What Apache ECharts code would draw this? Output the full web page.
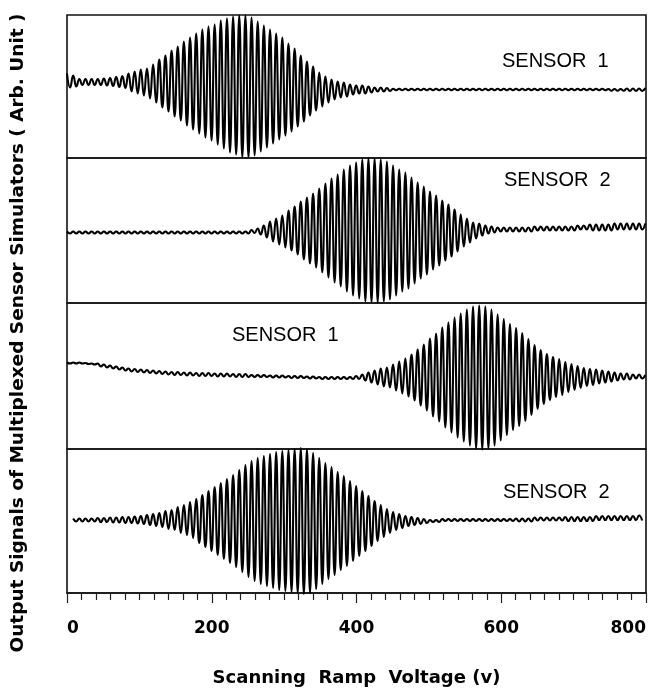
<!DOCTYPE html>
<html>
<head>
<meta charset="utf-8">
<script src="https://cdn.jsdelivr.net/npm/echarts@6.0.0/dist/echarts.min.js"></script>
<style>
html,body{margin:0;padding:0;background:#fff;}
#chart{width:660px;height:691px;}
</style>
</head>
<body>
<div id="chart"></div>
<script>
// ---------- data ----------
const xTickLabels = ['0', '200', '400', '600', '800'];
const panelLabels = ['SENSOR  1', 'SENSOR  2', 'SENSOR  1', 'SENSOR  2'];
const xAxisTitle = 'Scanning  Ramp  Voltage (v)';
const yAxisTitle = 'Output Signals of Multiplexed Sensor Simulators ( Arb. Unit )';

// samples alternate peak / trough, half a carrier cycle (volts) apart
const HALF_CYCLE = 4.25;

// panel 1 (SENSOR 1)
const sensor1aPeaks = [
  13, 11, 7.5, 7.5, 7.5, 7.5, 8, 8.5, 9.5, 10.5,
  13, 15, 17, 18, 22, 27, 31, 36, 40, 45,
  49, 53, 57, 60, 62, 66, 68, 70, 71, 71,
  69, 65, 61, 57, 53, 49, 43, 38, 31, 25,
  20, 14, 10, 7, 5, 4, 2, 1, 1, 0,
  -1, -1, -1.5, -2.2, -2.2, -2.2, -2.2, -2.2, -2.2, -2.2,
  -2.2, -2.2, -2.2, -2.2, -2.2, -2.2, -2.2, -2.2, -2.2, -2.2,
  -2.2, -2.2, -2.2, -2.2, -2.2, -2.2, -2.2, -2.2, -2.2, -2.2,
  -2.2, -2.2, -2.2, -2.2, -2.2, -2.2, -2.2, -2.2, -2.5, -2.5,
  -2.5, -2, -2, -2, -1.5
];
const sensor1aTroughs = [
  -1, 0, 1.5, 1.5, 1.5, 1.5, 1, 0.5, -0.5, -1.5,
  -5, -7, -9, -12, -16, -21, -25, -30, -34, -39,
  -43, -47, -51, -54, -58, -62, -66, -68, -71, -71,
  -69, -65, -61, -57, -53, -49, -45, -40, -35, -29,
  -24, -20, -16, -13, -11, -10, -8, -7, -7, -6,
  -5, -5, -4.5, -3.8, -3.8, -3.8, -3.8, -3.8, -3.8, -3.8,
  -3.8, -3.8, -3.8, -3.8, -3.8, -3.8, -3.8, -3.8, -3.8, -3.8,
  -3.8, -3.8, -3.8, -3.8, -3.8, -3.8, -3.8, -3.8, -3.8, -3.8,
  -3.8, -3.8, -3.8, -3.8, -3.8, -3.8, -3.8, -3.8, -4.2, -4.2,
  -4.2, -4.5, -4.5, -4.5
];

// panel 2 (SENSOR 2)
const sensor2aPeaks = [
  -1, -1, -1, -1, -1, -1, -1, -1, -1, -1,
  -1, -1, -1, -1, -1, -1, -1, -1, -1, -1,
  -1, -1, -1, -1, -1, -1, -1, -1, -1, -1,
  0.5, 2, 5, 9, 12, 15, 20, 24, 29, 33,
  37, 42, 47, 52, 56, 61, 65, 68, 71, 72,
  72, 71, 69, 65, 61, 58, 53, 48, 44, 39,
  35, 30, 26, 21, 16, 12, 8, 7, 5, 4,
  3, 3, 3, 3, 3, 3, 4, 4, 4, 4,
  4, 4, 4, 5, 5, 6, 6, 6, 6, 7,
  7, 7, 7, 7, 7
];
const sensor2aTroughs = [
  -3, -3, -3, -3, -3, -3, -3, -3, -3, -3,
  -3, -3, -3, -3, -3, -3, -3, -3, -3, -3,
  -3, -3, -3, -3, -3, -3, -3, -3, -3, -3,
  -2.5, -4, -7, -11, -14, -17, -20, -24, -29, -33,
  -37, -42, -47, -52, -56, -61, -65, -68, -71, -72,
  -72, -71, -69, -65, -61, -58, -53, -48, -44, -39,
  -35, -30, -26, -21, -16, -12, -8, -5, -3, -2,
  -1, -1, -1, -1, -1, -1, 0, 0, 0, 0,
  0, 0, 0, 1, 1, 0, 0, 0, 0, 1,
  1, 1, 1, 1
];

// panel 3 (SENSOR 1)
const sensor1bPeaks = [
  13.5, 13.5, 13.5, 13, 12.5, 12.5, 11.5, 10.5, 9.5, 8.5,
  7.5, 7, 6.5, 6, 5.5, 5, 4.5, 4, 4, 3.5,
  3.5, 3, 3, 3, 2.5, 2.5, 2.5, 2, 2, 2,
  1, 1, 1, 0.5, 0.5, 0.5, 0, 0, 0, -0.5,
  -0.5, -1, -1, -1, -1, -1, -1, 0, 1.5, 3.5,
  5.5, 7.5, 8.5, 11.5, 14.5, 17.5, 21.5, 26.5, 31.5, 37.5,
  42.5, 48.5, 53.5, 58.5, 62.5, 66.5, 69.5, 70.5, 69.5, 66.5,
  61.5, 57, 52, 48, 43, 37, 31, 26, 22, 19,
  17, 14, 12, 10, 8, 7, 6.5, 5.5, 4.5, 3.5,
  2.5, 2.5, 1.5, 1.5, 1
];
const sensor1bTroughs = [
  12.5, 12.5, 12.5, 12, 11.5, 9.5, 8.5, 7.5, 6.5, 5.5,
  4.5, 4, 3.5, 3, 2.5, 2, 1.5, 1, 1, 0.5,
  0.5, 0, 0, 0, -0.5, -0.5, -0.5, -1, -1, -1,
  -1, -1, -1, -1.5, -1.5, -1.5, -2, -2, -2, -2.5,
  -2.5, -3, -3, -3, -3, -3, -3, -3, -4.5, -6.5,
  -8.5, -10.5, -11.5, -14.5, -17.5, -20.5, -24.5, -29.5, -34.5, -40.5,
  -45.5, -51.5, -56.5, -61.5, -65.5, -69.5, -72.5, -73.5, -72.5, -69.5,
  -64.5, -59, -54, -50, -45, -39, -33, -28, -24, -21,
  -19, -16, -14, -12, -10, -9, -7.5, -6.5, -5.5, -4.5,
  -3.5, -3.5, -2.5, -2.5
];

// panel 4 (SENSOR 2)
const sensor2bPeaks = [
  null, 2.5, 2.5, 2.5, 2.5, 3, 3, 3.5, 3.5, 4,
  4, 4.5, 5, 6, 7, 8, 10, 11, 14, 16,
  19, 22, 26, 30, 34, 38, 42, 46, 51, 56,
  60, 63, 65, 67, 69, 70, 71, 72, 73, 72,
  68, 63, 58, 54, 49, 45, 40, 35, 30, 25,
  20, 16, 12, 9, 7, 5, 4, 3, 2, 1,
  1, 2, 2, 2, 2, 2, 2, 2, 2, 2,
  2, 2, 2, 2.5, 2.5, 2.5, 3.5, 3.5, 3.5, 3.5,
  3.5, 4, 4, 4, 4, 4, 5, 5, 5, 5,
  5, 5, 5, 5.5, null
];
const sensor2bTroughs = [
  null, -0.5, -0.5, -0.5, -0.5, -1, -1, -1.5, -1.5, -2,
  -2, -2.5, -3, -4, -5, -6, -8, -9, -12, -14,
  -17, -22, -26, -30, -34, -38, -42, -46, -51, -56,
  -60, -63, -65, -67, -69, -70, -71, -72, -73, -72,
  -68, -63, -58, -54, -49, -45, -40, -35, -30, -25,
  -20, -16, -12, -9, -7, -5, -4, -3, -2, -1,
  -1, 0, 0, 0, 0, 0, 0, 0, 0, 0,
  0, 0, 0, -0.5, -0.5, -0.5, 0.5, 0.5, 0.5, 0.5,
  0.5, 0, 0, 0, 0, 0, 1, 1, 1, 1,
  1, 1, 1, 0.5
];

const panelPeaks = [sensor1aPeaks, sensor2aPeaks, sensor1bPeaks, sensor2bPeaks];
const panelTroughs = [sensor1aTroughs, sensor2aTroughs, sensor1bTroughs, sensor2bTroughs];

// ---------- layout ----------
const panelBoxes = [
  { top: 15, height: 143 },
  { top: 158, height: 145 },
  { top: 303, height: 146 },
  { top: 449, height: 144 }
];
const labelPos = [[502, 61], [504, 180], [232, 335], [503, 492]];

function buildSeriesData(peaks, troughs) {
  const out = [];
  for (let i = 0; i < peaks.length; i++) {
    out.push([i * 2 * HALF_CYCLE, peaks[i] === null ? '-' : peaks[i]]);
    if (i < troughs.length) {
      out.push([(i * 2 + 1) * HALF_CYCLE, troughs[i] === null ? '-' : troughs[i]]);
    }
  }
  return out;
}

const chart = echarts.init(document.getElementById('chart'), null, { renderer: 'canvas' });

const grid = panelBoxes.map(b => ({
  left: 67, right: 14, top: b.top, height: b.height,
  show: true, borderColor: '#111', borderWidth: 1.6, backgroundColor: 'transparent'
}));

const xAxis = panelBoxes.map((b, i) => {
  const last = i === panelBoxes.length - 1;
  return {
    type: 'value', gridIndex: i, min: 0, max: 800, interval: 200,
    show: last, position: 'bottom',
    axisLine: { show: last, onZero: false, lineStyle: { color: '#111', width: 1.6 } },
    axisTick: { show: last, length: 10, inside: false, lineStyle: { color: '#222', width: 1.2 } },
    minorTick: { show: last, splitNumber: 10, length: 7, lineStyle: { color: '#222', width: 1.2 } },
    splitLine: { show: false },
    minorSplitLine: { show: false },
    axisLabel: {
      show: last, margin: 27, color: '#000',
      fontFamily: 'DejaVu Sans', fontWeight: 'bold', fontSize: 17,
      alignMinLabel: 'left', alignMaxLabel: 'right',
      formatter: v => xTickLabels[Math.round(v / 200)]
    },
    name: last ? xAxisTitle : '',
    nameLocation: 'middle', nameGap: 76,
    nameTextStyle: { fontFamily: 'DejaVu Sans', fontWeight: 'bold', fontSize: 18, color: '#000' }
  };
});

const yAxis = panelBoxes.map((b, i) => ({
  type: 'value', gridIndex: i, min: -b.height / 2, max: b.height / 2, show: false,
  splitLine: { show: false }
}));

const series = panelPeaks.map((p, i) => ({
  type: 'line', xAxisIndex: i, yAxisIndex: i,
  data: buildSeriesData(p, panelTroughs[i]),
  symbol: 'none', showSymbol: false, clip: false, silent: true,
  connectNulls: false,
  smooth: 0.5, smoothMonotone: 'x',
  lineStyle: { color: '#000', width: 2.1, join: 'round' }
}));

const graphic = panelLabels.map((t, i) => ({
  type: 'text', x: labelPos[i][0], y: labelPos[i][1], silent: true,
  style: {
    text: t, fill: '#000',
    font: '20px "Liberation Sans", Arial, sans-serif',
    align: 'left', verticalAlign: 'middle',
    textAlign: 'left', textVerticalAlign: 'middle'
  }
}));
graphic.push({
  type: 'text', x: 18, y: 333, rotation: Math.PI / 2, silent: true,
  style: {
    text: yAxisTitle, fill: '#000',
    font: 'bold 18.5px "DejaVu Sans", sans-serif',
    align: 'center', verticalAlign: 'middle',
    textAlign: 'center', textVerticalAlign: 'middle'
  }
});

chart.setOption({
  animation: false,
  backgroundColor: '#fff',
  grid, xAxis, yAxis, series, graphic
});
</script>
</body>
</html>
